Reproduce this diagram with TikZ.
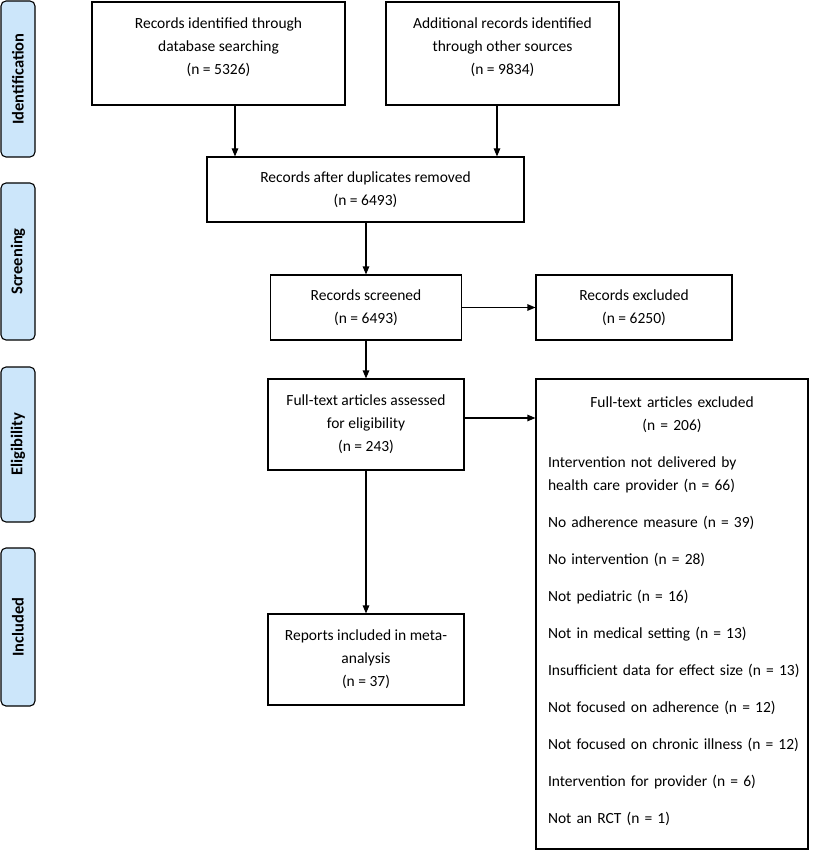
\documentclass[tikz,border=0pt]{standalone}
\usepackage{fontspec}
\setmainfont{Carlito}
\usetikzlibrary{arrows.meta}
\definecolor{sidefill}{RGB}{204,230,250}
\newcommand{\itm}{\hspace*{12pt}}
\tikzset{
 box/.style={draw=black, line width=1.1pt, inner sep=0pt, align=center, font=\fontsize{15.5}{23}\selectfont},
 side/.style={draw=black, line width=1.1pt, fill=sidefill, rounded corners=5pt, inner sep=0pt, rotate=90, minimum height=34pt, font=\bfseries\fontsize{16.5}{18}\selectfont},
 arr/.style={-{Triangle[length=8pt,width=6.5pt]}, line width=1.1pt}
}
\begin{document}
\begin{tikzpicture}[x=1pt,y=-1pt]
\useasboundingbox (0,0) rectangle (812,850);
% side labels
\node[side, minimum width=156pt] (s1) at (18,79) {Identification};
\node[side, minimum width=157pt] (s2) at (18,261.5) {Screening};
\node[side, minimum width=155pt] (s3) at (18,444.5) {Eligibility};
\node[side, minimum width=158pt] (s4) at (18,627) {Included};
% boxes
\node[box, minimum width=253pt, minimum height=103pt] (A) at (218.5,53.5)
 {Records identified through\\database searching\\(n = 5326)\rule[-15pt]{0pt}{1pt}};
\node[box, minimum width=233pt, minimum height=103pt] (B) at (502.5,53.5)
 {Additional records identified\\through other sources\\(n = 9834)\rule[-15pt]{0pt}{1pt}};
\node[box, minimum width=317pt, minimum height=65pt] (C) at (365.5,189.5)
 {Records after duplicates removed\\(n = 6493)};
\node[box, minimum width=191pt, minimum height=65pt] (D) at (366,307.5)
 {Records screened\\(n = 6493)};
\node[box, minimum width=196pt, minimum height=65pt] (E) at (634,307.5)
 {Records excluded\\(n = 6250)};
\node[box, minimum width=196pt, minimum height=91pt] (F) at (366,424.5)
 {Full-text articles assessed\\for eligibility\\(n = 243)};
\node[box, minimum width=196pt, minimum height=91pt] (H) at (366,659.5)
 {Reports included in meta-\\analysis\\(n = 37)};
\node[box, minimum width=272pt, minimum height=470pt, text width=272pt, align=left] (G) at (672,614)
 {\makebox[272pt]{Full-text articles excluded}\\
  \makebox[272pt]{(n = 206)}\\[14pt]
  \itm Intervention not delivered by\\
  \itm health care provider (n = 66)\\[14pt]
  \itm No adherence measure (n = 39)\\[14pt]
  \itm No intervention (n = 28)\\[14pt]
  \itm Not pediatric (n = 16)\\[14pt]
  \itm Not in medical setting (n = 13)\\[14pt]
  \itm Insufficient data for effect size (n = 13)\\[14pt]
  \itm Not focused on adherence (n = 12)\\[14pt]
  \itm Not focused on chronic illness (n = 12)\\[14pt]
  \itm Intervention for provider (n = 6)\\[14pt]
  \itm Not an RCT (n = 1)\rule[-8pt]{0pt}{1pt}};
% connectors
\coordinate (a1) at ([xshift=16.5pt]A.south);
\coordinate (b1) at ([xshift=-5.5pt]B.south);
\draw[arr] (a1) -- (a1 |- C.north);
\draw[arr] (b1) -- (b1 |- C.north);
\draw[arr] (C.south -| D.north) -- (D.north);
\draw[arr] (D.east) -- (E.west |- D.east);
\draw[arr] (D.south) -- (F.north);
\coordinate (f1) at ([yshift=6.5pt]F.east);
\draw[arr] (f1) -- (f1 -| G.west);
\draw[arr] (F.south) -- (H.north);
\end{tikzpicture}
\end{document}
